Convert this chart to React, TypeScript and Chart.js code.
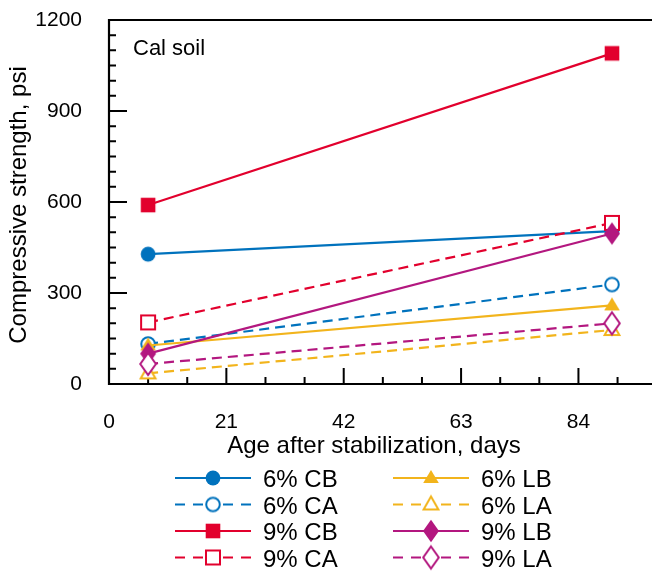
import React, { useEffect, useRef } from 'react';
import { Chart, registerables } from 'chart.js';

Chart.register(...registerables);

// ---- data ----
const ages = [7, 90];
const seriesLabels = ['6% CB', '6% CA', '9% CB', '9% CA', '6% LB', '6% LA', '9% LB', '9% LA'];
const cb6 = [428, 504];
const ca6 = [132, 328];
const cb9 = [590, 1090];
const ca9 = [203, 531];
const lb6 = [127, 259];
const la6 = [35, 178];
const lb9 = [100, 496];
const la9 = [66, 200];
const xTickValues = [0, 21, 42, 63, 84];
const yTickValues = [0, 300, 600, 900, 1200];
const xMinorStep = 7;
const yMinorStep = 50;
const xMax = 105;
const yMax = 1200;

const BLUE = '#0072BD';
const RED = '#E2002D';
const YELLOW = '#F2B41C';
const MAGENTA = '#B3177F';
const FONT = '"Liberation Sans", Arial, Helvetica, sans-serif';

const seriesValues = [cb6, ca6, cb9, ca9, lb6, la6, lb9, la9];
const seriesColors = [BLUE, BLUE, RED, RED, YELLOW, YELLOW, MAGENTA, MAGENTA];
const seriesDashed = [false, true, false, true, false, true, false, true];
const seriesShapes = ['circle', 'circle', 'square', 'square', 'triangle', 'triangle', 'diamond', 'diamond'];

function makeMarker(shape: string, color: string, filled: boolean): HTMLCanvasElement {
  const c = document.createElement('canvas');
  c.width = 30;
  c.height = 30;
  const g = c.getContext('2d')!;
  const cx = 15, cy = 15;
  g.beginPath();
  if (shape === 'circle') {
    g.arc(cx, cy, filled ? 7.4 : 6.8, 0, Math.PI * 2);
  } else if (shape === 'square') {
    const h = filled ? 7.3 : 7;
    g.rect(cx - h, cy - h, 2 * h, 2 * h);
  } else if (shape === 'triangle') {
    const w = filled ? 7.8 : 7.4;
    g.moveTo(cx, cy - 8);
    g.lineTo(cx + w, cy + 5);
    g.lineTo(cx - w, cy + 5);
    g.closePath();
  } else {
    const w = filled ? 8 : 7.8;
    const h = filled ? 11.2 : 11;
    g.moveTo(cx, cy - h);
    g.lineTo(cx + w, cy);
    g.lineTo(cx, cy + h);
    g.lineTo(cx - w, cy);
    g.closePath();
  }
  if (filled) {
    g.fillStyle = color;
    g.fill();
  } else {
    g.fillStyle = '#ffffff';
    g.fill();
    g.lineWidth = 2;
    g.strokeStyle = color;
    g.stroke();
  }
  return c;
}

const decorPlugin = {
  id: 'decor',
  beforeDatasetsDraw(chart: any) {
    const { ctx, chartArea } = chart;
    const { left, top, right, bottom } = chartArea;
    const xs = chart.scales.x;
    const ys = chart.scales.y;
    ctx.save();
    ctx.strokeStyle = '#000';
    ctx.lineWidth = 2.2;
    ctx.beginPath();
    ctx.moveTo(right, top);
    ctx.lineTo(left, top);
    ctx.lineTo(left, bottom);
    ctx.lineTo(right, bottom);
    ctx.lineTo(right, top);
    ctx.stroke();
    ctx.lineWidth = 2;
    ctx.beginPath();
    for (let v = 0; v <= xMax; v += xMinorStep) {
      const px = xs.getPixelForValue(v);
      const len = v % 21 === 0 ? 16 : 7;
      ctx.moveTo(px, bottom);
      ctx.lineTo(px, bottom - len);
    }
    for (let v = 0; v <= yMax; v += yMinorStep) {
      const py = ys.getPixelForValue(v);
      const len = v % 300 === 0 ? 18 : 7;
      ctx.moveTo(left, py);
      ctx.lineTo(left + len, py);
    }
    ctx.stroke();
    ctx.restore();
  },
  afterDraw(chart: any) {
    const { ctx } = chart;
    ctx.save();
    ctx.fillStyle = '#000';
    ctx.textBaseline = 'alphabetic';
    // annotation
    ctx.font = `22px ${FONT}`;
    ctx.textAlign = 'left';
    ctx.fillText('Cal soil', 133, 55);
    // x title
    ctx.font = `24px ${FONT}`;
    ctx.textAlign = 'center';
    ctx.fillText('Age after stabilization, days', 374, 453);
    // y title
    ctx.save();
    ctx.translate(26, 205);
    ctx.rotate(-Math.PI / 2);
    ctx.fillText('Compressive strength, psi', 0, 0);
    ctx.restore();
    // legend
    const ds = chart.data.datasets;
    const colX = [175, 393];
    const colW = 76;
    const textGap = 12;
    ds.forEach((d: any, i: number) => {
      const col = i < 4 ? 0 : 1;
      const row = i % 4;
      const y = 478 + row * 26.5;
      const x0 = colX[col];
      const x1 = x0 + colW;
      const xm = (x0 + x1) / 2;
      ctx.strokeStyle = d.borderColor;
      ctx.lineWidth = 2.2;
      ctx.setLineDash(d.borderDash && d.borderDash.length ? [10, 8] : []);
      ctx.beginPath();
      ctx.moveTo(x0, y);
      ctx.lineTo(xm, y);
      ctx.stroke();
      ctx.beginPath();
      ctx.moveTo(x1, y);
      ctx.lineTo(xm, y);
      ctx.stroke();
      ctx.setLineDash([]);
      const m = d.pointStyle as HTMLCanvasElement;
      ctx.drawImage(m, xm - m.width / 2, y - m.height / 2);
      ctx.fillStyle = '#000';
      ctx.font = `24px ${FONT}`;
      ctx.textAlign = 'left';
      ctx.fillText(d.label, x1 + textGap, y + 9);
    });
    ctx.restore();
  },
};

export default function App() {
  const ref = useRef<HTMLCanvasElement | null>(null);

  useEffect(() => {
    if (!ref.current) return;
    const datasets = seriesLabels.map((label, i) => ({
      label,
      data: ages.map((x, j) => ({ x, y: seriesValues[i][j] })),
      borderColor: seriesColors[i],
      backgroundColor: seriesColors[i],
      borderWidth: 2.2,
      borderDash: seriesDashed[i] ? [10, 6] : [],
      pointStyle: makeMarker(seriesShapes[i], seriesColors[i], !seriesDashed[i]),
      pointRadius: 10,
      pointHoverRadius: 10,
      tension: 0,
      order: seriesLabels.length - i,
    }));

    const chart = new Chart(ref.current, {
      type: 'line',
      data: { datasets },
      options: {
        responsive: false,
        animation: false,
        devicePixelRatio: 1,
        events: [],
        layout: { padding: { left: 0, top: 20, right: 5, bottom: 100 } },
        plugins: {
          legend: { display: false },
          tooltip: { enabled: false },
          title: { display: false },
        },
        scales: {
          x: {
            type: 'linear',
            min: 0,
            max: xMax,
            grid: { display: false, drawTicks: false },
            border: { display: false },
            afterBuildTicks: (s: any) => {
              s.ticks = xTickValues.map((v) => ({ value: v }));
            },
            afterFit: (s: any) => {
              s.height = 88;
              s.paddingLeft = 0;
              s.paddingRight = 0;
            },
            ticks: {
              padding: 26,
              color: '#000',
              font: { family: FONT, size: 21 },
              maxRotation: 0,
              autoSkip: false,
              callback: (v: any) => String(v),
            },
          },
          y: {
            type: 'linear',
            min: 0,
            max: yMax,
            grid: { display: false, drawTicks: false },
            border: { display: false },
            afterBuildTicks: (s: any) => {
              s.ticks = yTickValues.map((v) => ({ value: v }));
            },
            afterFit: (s: any) => {
              s.width = 109;
              s.paddingTop = 0;
              s.paddingBottom = 0;
            },
            ticks: {
              padding: 27,
              color: '#000',
              font: { family: FONT, size: 21 },
              callback: (v: any) => String(v),
            },
          },
        },
      } as any,
      plugins: [decorPlugin],
    });
    return () => chart.destroy();
  }, []);

  return (
    <div
      style={{
        position: 'fixed',
        left: 0,
        top: 0,
        width: 652,
        height: 572,
        overflow: 'hidden',
        background: '#fff',
      }}
    >
      <canvas ref={ref} width={708} height={572} style={{ display: 'block' }} />
    </div>
  );
}
